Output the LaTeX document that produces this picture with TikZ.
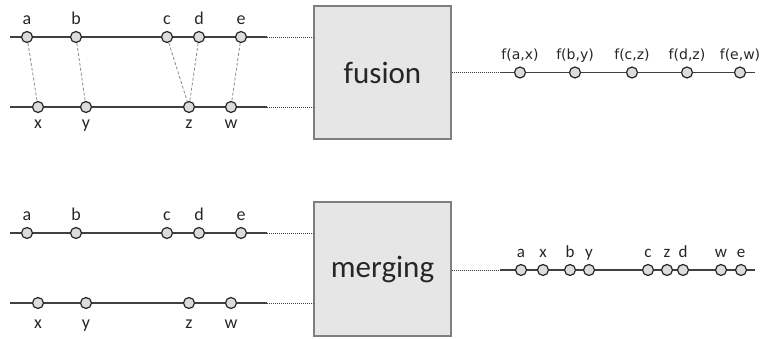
\documentclass[tikz,border=0pt]{standalone}
\usepackage{fontspec}
\setmainfont{Carlito}
\newfontfamily\dvfont{DejaVu Sans}
\definecolor{lncol}{HTML}{404040}
\definecolor{ptfill}{HTML}{DCDCDC}
\definecolor{ptdraw}{HTML}{262626}
\definecolor{boxfill}{HTML}{E6E6E6}
\definecolor{boxdraw}{HTML}{7F7F7F}
\definecolor{txtcol}{HTML}{262626}
\definecolor{dashcol}{HTML}{8C8C8C}
\tikzset{
  pt/.style={circle,minimum size=11pt,inner sep=0pt,fill=ptfill,draw=ptdraw,line width=1.2pt},
  lab/.style={text=txtcol,font=\fontsize{18}{20}\selectfont,inner sep=0pt,anchor=base},
  flab/.style={text=txtcol,font=\dvfont\fontsize{14}{16}\selectfont,inner sep=0pt,anchor=base},
  mlab/.style={text=txtcol,font=\fontsize{17}{19}\selectfont,inner sep=0pt,anchor=base},
  ln/.style={draw=lncol,line width=1.2pt},
  dotln/.style={draw=lncol,line width=0.8pt,dash pattern=on 1pt off 1pt},
  dashln/.style={draw=dashcol,line width=0.8pt,dash pattern=on 3pt off 2pt},
  procbox/.style={draw=boxdraw,fill=boxfill,line width=1.2pt,minimum width=137pt,minimum height=133pt,inner sep=0pt,text=txtcol,font=\fontsize{31}{35}\selectfont},
}
\begin{document}
\begin{tikzpicture}[x=1pt,y=-1pt]
\useasboundingbox (0,0) rectangle (760,339);
% boxes
\node[procbox] (fbox) at (382.5,72.5) {fusion};
\node[procbox,minimum height=134pt] (mbox) at (382.5,269) {merging};
% line coordinates
\coordinate (ftL) at (10,37);  \coordinate (ftR) at (267,37);
\coordinate (fbL) at (10,107); \coordinate (fbR) at (267,107);
\coordinate (mtL) at (10,233); \coordinate (mtR) at (267,233);
\coordinate (mbL) at (10,303); \coordinate (mbR) at (267,303);
\coordinate (foM) at (500,72.5); \coordinate (foR) at (755,72.5);
\coordinate (moM) at (500,270); \coordinate (moR) at (755,270);
% solid lines
\draw[ln] (ftL) -- (ftR);
\draw[ln] (fbL) -- (fbR);
\draw[ln] (mtL) -- (mtR);
\draw[ln] (mbL) -- (mbR);
\draw[ln] (foM) -- (foR);
\draw[ln] (moM) -- (moR);
% dotted lines
\draw[dotln] (ftR) -- (ftR -| fbox.west);
\draw[dotln] (fbR) -- (fbR -| fbox.west);
\draw[dotln] (mtR) -- (mtR -| mbox.west);
\draw[dotln] (mbR) -- (mbR -| mbox.west);
\draw[dotln] (foM -| fbox.east) -- (foM);
\draw[dotln] (moM -| mbox.east) -- (moM);
% fusion inputs
\foreach \n/\x in {a/27,b/76,c/167,d/199,e/241}{
  \node[pt] (ft\n) at (\x,37) {};
  \node[lab] (ftl\n) at (\x,25) {\n};
}
\foreach \n/\x in {x/38,y/86,z/189,w/231}{
  \node[pt] (fb\n) at (\x,107) {};
  \node[lab] (fbl\n) at (\x,129) {\n};
}
\draw[dashln] (fta) -- (fbx);
\draw[dashln] (ftb) -- (fby);
\draw[dashln] (ftc) -- (fbz);
\draw[dashln] (ftd) -- (fbz);
\draw[dashln] (fte) -- (fbw);
% merging inputs
\foreach \n/\x in {a/27,b/76,c/167,d/199,e/241}{
  \node[pt] (mt\n) at (\x,233) {};
  \node[lab] (mtl\n) at (\x,221) {\n};
}
\foreach \n/\x in {x/38,y/86,z/189,w/231}{
  \node[pt] (mb\n) at (\x,303) {};
  \node[lab] (mbl\n) at (\x,328) {\n};
}
% fusion output
\foreach \i/\t/\x in {1/{f(a,x)}/520,2/{f(b,y)}/575,3/{f(c,z)}/632,4/{f(d,z)}/687,5/{f(e,w)}/740}{
  \node[pt] (fo\i) at (\x,72.5) {};
  \node[flab] (fol\i) at (\x,60) {\t};
}
% merging output
\foreach \n/\x in {a/521,x/543,b/570,y/589,c/648,z/667,d/683,w/721,e/741}{
  \node[pt] (mo\n) at (\x,270) {};
  \node[mlab] (mol\n) at (\x,257) {\n};
}
\end{tikzpicture}
\end{document}
